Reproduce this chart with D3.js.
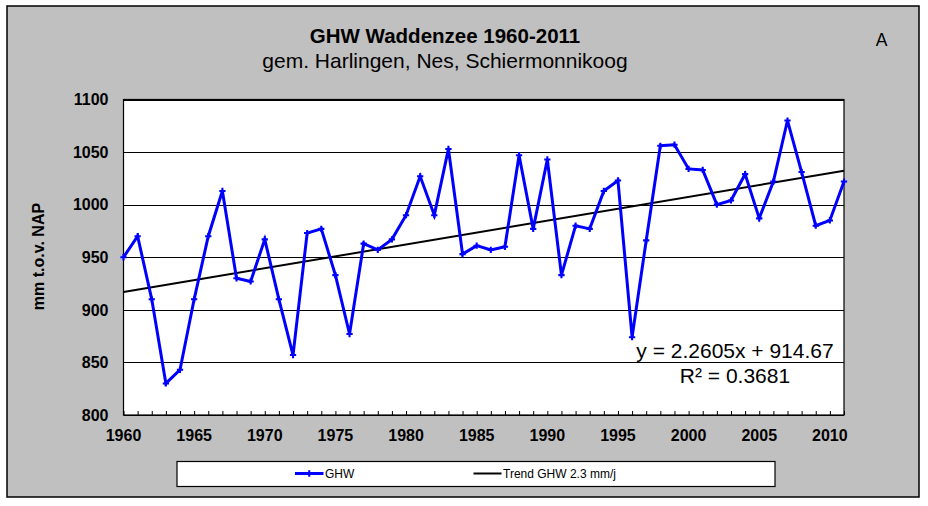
<!DOCTYPE html>
<html>
<head>
<meta charset="utf-8">
<script src="https://cdn.jsdelivr.net/npm/d3@7"></script>
<style>
  html, body { margin: 0; padding: 0; background: #ffffff; }
  svg { display: block; }
  text { font-family: Arial, "Liberation Sans", sans-serif; }
</style>
</head>
<body>
<svg id="chart" width="928" height="506"></svg>
<script>
const years = [1960,1961,1962,1963,1964,1965,1966,1967,1968,1969,
               1970,1971,1972,1973,1974,1975,1976,1977,1978,1979,
               1980,1981,1982,1983,1984,1985,1986,1987,1988,1989,
               1990,1991,1992,1993,1994,1995,1996,1997,1998,1999,
               2000,2001,2002,2003,2004,2005,2006,2007,2008,2009,
               2010,2011];
const ghw = [950,970,910,830,843,910,970,1013,930,927,
             967,910,857,973,977,933,877,963,957,967,
             990,1027,990,1053,953,961,957,960,1047,977,
             1043,933,980,977,1013,1023,874,966,1056,1057,
             1034,1033,1000,1004,1029,987,1022,1080,1031,980,
             985,1022];
const trendSlope = 2.2605;
const trendIntercept = 914.67;
const yTicks = [800,850,900,950,1000,1050,1100];
const xTickLabels = [1960,1965,1970,1975,1980,1985,1990,1995,2000,2005,2010];
const titleText = "GHW Waddenzee 1960-2011";
const subtitleText = "gem. Harlingen, Nes, Schiermonnikoog";
const yAxisTitle = "mm t.o.v. NAP";
const seriesNames = ["GHW", "Trend GHW 2.3 mm/j"];
const equationLines = ["y = 2.2605x + 914.67", "R\u00B2 = 0.3681"];
const cornerLabel = "A";

const svg = d3.select("#chart");
const P = { left: 123.5, right: 844, top: 99.5, bottom: 415 };

// outer chart frame
svg.append("rect").attr("x", 7).attr("y", 6).attr("width", 912).attr("height", 491)
  .attr("fill", "#c0c0c0").attr("stroke", "#000").attr("stroke-width", 1.5);

const x = d3.scaleLinear().domain([years[0], years[years.length - 1]]).range([P.left, P.right]);
const y = d3.scaleLinear().domain([800, 1100]).range([P.bottom, P.top]);

// plot area
svg.append("rect").attr("x", P.left).attr("y", P.top)
  .attr("width", P.right - P.left).attr("height", P.bottom - P.top)
  .attr("fill", "#fff");

// gridlines
svg.append("g").selectAll("line").data(yTicks).join("line")
  .attr("x1", P.left).attr("x2", P.right)
  .attr("y1", d => Math.round(y(d)) + 0.5).attr("y2", d => Math.round(y(d)) + 0.5)
  .attr("stroke", "#000").attr("stroke-width", 1);

// plot border
svg.append("rect").attr("x", P.left).attr("y", P.top)
  .attr("width", P.right - P.left).attr("height", P.bottom - P.top)
  .attr("fill", "none").attr("stroke", "#000").attr("stroke-width", 1.2);

// x axis (ticks inward every year)
const xAxis = d3.axisBottom(x).tickValues(years).tickSize(-4).tickFormat("");
const gx = svg.append("g").attr("transform", `translate(0,${P.bottom})`).call(xAxis);
gx.select(".domain").remove();
gx.selectAll("line").attr("stroke", "#000");

// x labels
svg.append("g").selectAll("text").data(xTickLabels).join("text")
  .attr("x", d => x(d)).attr("y", 440.7)
  .attr("text-anchor", "middle").attr("font-size", "16px").attr("font-weight", "bold")
  .attr("fill", "#000").text(d => d);

// y labels
svg.append("g").selectAll("text").data(yTicks).join("text")
  .attr("x", 108.5).attr("y", d => y(d) + 5.8)
  .attr("text-anchor", "end").attr("font-size", "16px").attr("font-weight", "bold")
  .attr("fill", "#000").text(d => d);

// y axis title
svg.append("text").attr("transform", "translate(43.5,256.5) rotate(-90)")
  .attr("text-anchor", "middle").attr("font-size", "16px").attr("font-weight", "bold")
  .attr("fill", "#000").text(yAxisTitle);

// title
svg.append("text").attr("x", 445).attr("y", 43.3).attr("text-anchor", "middle")
  .attr("font-size", "20.5px").attr("font-weight", "bold").attr("fill", "#000").text(titleText);
svg.append("text").attr("x", 445).attr("y", 68.3).attr("text-anchor", "middle")
  .attr("font-size", "21px").attr("fill", "#000").text(subtitleText);
svg.append("text").attr("x", 881.7).attr("y", 46).attr("text-anchor", "middle")
  .attr("font-size", "17.5px").attr("fill", "#000").text(cornerLabel);

// trend line
const trendData = [years[0], years[years.length - 1]].map(yr => ({
  yr, v: trendSlope * (yr - years[0] + 1) + trendIntercept
}));
svg.append("path").datum(trendData)
  .attr("d", d3.line().x(d => x(d.yr)).y(d => y(d.v)))
  .attr("fill", "none").attr("stroke", "#000").attr("stroke-width", 2);

// GHW series
const series = years.map((yr, i) => ({ yr, v: ghw[i] }));
svg.append("path").datum(series)
  .attr("d", d3.line().x(d => x(d.yr)).y(d => y(d.v)))
  .attr("fill", "none").attr("stroke", "#0000ff").attr("stroke-width", 3)
  .attr("stroke-linejoin", "miter");
svg.append("g").selectAll("path").data(series).join("path")
  .attr("transform", d => `translate(${x(d.yr)},${y(d.v)})`)
  .attr("d", d3.symbol(d3.symbolCross, 22)())
  .attr("fill", "#0000ff");

// equation
svg.append("g").selectAll("text").data(equationLines).join("text")
  .attr("x", 735).attr("y", (d, i) => 358.3 + i * 25)
  .attr("text-anchor", "middle").attr("font-size", "21px").attr("fill", "#000")
  .text(d => d);

// legend
const lg = svg.append("g");
lg.append("rect").attr("x", 177).attr("y", 461.5).attr("width", 598).attr("height", 25)
  .attr("fill", "#fff").attr("stroke", "#000").attr("stroke-width", 1.2);
const legendItems = [
  { name: seriesNames[0], color: "#0000ff", w: 3, x0: 295, x1: 323.5, marker: true },
  { name: seriesNames[1], color: "#000", w: 2, x0: 473.5, x1: 501.5, marker: false }
];
legendItems.forEach(it => {
  lg.append("line").attr("x1", it.x0).attr("x2", it.x1).attr("y1", 473.5).attr("y2", 473.5)
    .attr("stroke", it.color).attr("stroke-width", it.w);
  if (it.marker) {
    lg.append("path").attr("transform", `translate(${(it.x0 + it.x1) / 2},473.5)`)
      .attr("d", d3.symbol(d3.symbolCross, 22)()).attr("fill", it.color);
  }
  lg.append("text").attr("x", it.x1 + 1.5).attr("y", 477.8)
    .attr("font-size", "12px").attr("fill", "#000").text(it.name);
});
</script>
</body>
</html>
